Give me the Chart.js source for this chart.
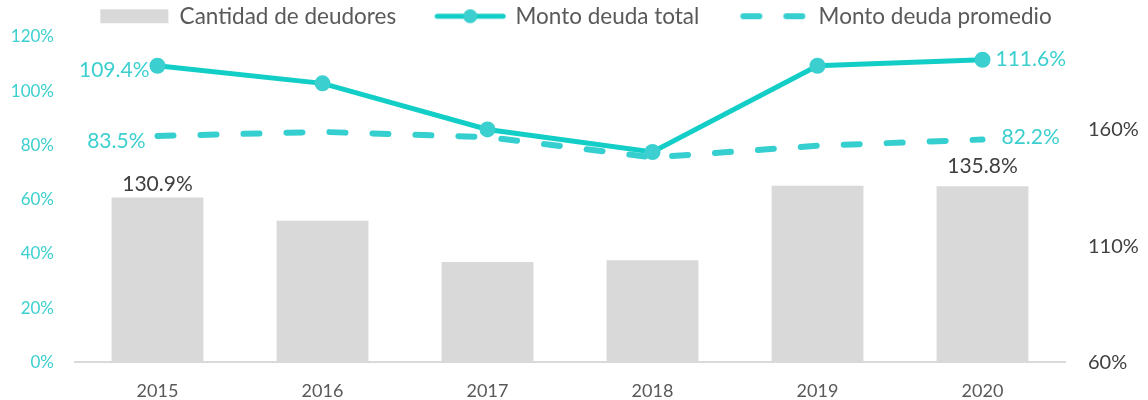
<!DOCTYPE html>
<html>
<head>
<meta charset="utf-8">
<script src="https://cdn.jsdelivr.net/npm/chart.js@4.4.0/dist/chart.umd.min.js"></script>
<style>
  html, body { margin: 0; padding: 0; background: #ffffff; }
  #wrap { width: 1148px; height: 400px; position: relative; }
</style>
</head>
<body>
<div id="wrap"><canvas id="c"></canvas></div>
<script>
// ---- data ----
const categories = ['2015', '2016', '2017', '2018', '2019', '2020'];
const cantidadDeudores = [130.9, 120.9, 103.2, 103.9, 136.0, 135.8];   // right axis
const montoDeudaTotal = [109.4, 102.9, 85.9, 77.6, 109.4, 111.6];      // left axis
const montoDeudaPromedio = [83.5, 85.0, 83.1, 75.6, 79.9, 82.2];       // left axis
const leftTicks = [0, 20, 40, 60, 80, 100, 120];
const rightTicks = [60, 110, 160];
const seriesNames = ['Cantidad de deudores', 'Monto deuda total', 'Monto deuda promedio'];

// ---- styles ----
const FONT = 'Lato';
const TEAL_LINE = '#12CEC6';
const TEAL_MARK = '#3BCFCF';
const TEAL_DASH = '#36CFCF';
const TEAL_TEXT = '#3CCFCF';
const BAR = '#D9D9D9';

function makeSwatch(kind) {
  const cv = document.createElement('canvas');
  cv.width = 72; cv.height = 20;
  const g = cv.getContext('2d');
  if (kind === 'bar') {
    g.fillStyle = BAR;
    g.fillRect(2, 3, 68, 14);
  } else if (kind === 'line') {
    g.strokeStyle = TEAL_LINE; g.lineWidth = 5; g.lineCap = 'round';
    g.beginPath(); g.moveTo(3, 10); g.lineTo(69, 10); g.stroke();
    g.fillStyle = TEAL_MARK;
    g.beginPath(); g.arc(36, 10, 7, 0, Math.PI * 2); g.fill();
  } else {
    g.strokeStyle = TEAL_DASH; g.lineWidth = 6; g.lineCap = 'round';
    g.setLineDash([16, 27]);
    g.beginPath(); g.moveTo(6, 10); g.lineTo(72, 10); g.stroke();
  }
  return cv;
}
const swatches = [makeSwatch('bar'), makeSwatch('line'), makeSwatch('dash')];

// label placement (style only)
const labelPlacement = {
  0: { 0: { align: 'center', dx: 0, dy: -13, color: '#404040' }, 5: { align: 'center', dx: 0, dy: -20, color: '#404040' } },
  1: { 0: { align: 'right', dx: -8, dy: 4, color: TEAL_TEXT }, 5: { align: 'left', dx: 13, dy: -1, color: TEAL_TEXT } },
  2: { 0: { align: 'right', dx: -12, dy: 5, color: TEAL_TEXT }, 5: { align: 'left', dx: 19, dy: -2, color: TEAL_TEXT } }
};

const dataLabelPlugin = {
  id: 'dataLabels',
  afterDatasetsDraw(chart) {
    const ctx = chart.ctx;
    ctx.save();
    ctx.font = '21px ' + FONT;
    ctx.textBaseline = 'middle';
    chart.data.datasets.forEach((ds, di) => {
      const meta = chart.getDatasetMeta(di);
      const place = labelPlacement[di] || {};
      Object.keys(place).forEach(k => {
        const i = +k;
        const el = meta.data[i];
        if (!el) return;
        const p = place[k];
        ctx.fillStyle = p.color;
        ctx.textAlign = p.align;
        ctx.fillText(ds.data[i].toFixed(1) + '%', el.x + p.dx, el.y + p.dy);
      });
    });
    ctx.restore();
  }
};

new Chart(document.getElementById('c'), {
  data: {
    labels: categories,
    datasets: [
      {
        type: 'bar', label: seriesNames[0], data: cantidadDeudores, yAxisID: 'y2',
        backgroundColor: BAR, borderWidth: 0,
        categoryPercentage: 1, barPercentage: 0.557
      },
      {
        type: 'line', label: seriesNames[1], data: montoDeudaTotal, yAxisID: 'y',
        borderColor: TEAL_LINE, borderWidth: 5, tension: 0,
        pointRadius: 8, pointBackgroundColor: TEAL_MARK, pointBorderWidth: 0,
        pointHoverRadius: 8
      },
      {
        type: 'line', label: seriesNames[2], data: montoDeudaPromedio, yAxisID: 'y',
        borderColor: TEAL_DASH, borderWidth: 6, borderDash: [16, 27], borderCapStyle: 'round',
        tension: 0, pointRadius: 0, pointHoverRadius: 0
      }
    ]
  },
  options: {
    responsive: true,
    maintainAspectRatio: false,
    animation: false,
    layout: { padding: { top: -35, left: 4, right: 0, bottom: -20 } },
    plugins: {
      tooltip: { enabled: false },
      legend: {
        position: 'top',
        maxHeight: 72,
        labels: {
          usePointStyle: true,
          pointStyleWidth: 68,
          padding: 40,
          color: '#595959',
          font: { family: FONT, size: 22.5 },
          generateLabels(chart) {
            return chart.data.datasets.map((ds, i) => ({
              text: ds.label,
              pointStyle: swatches[i],
              fontColor: '#595959',
              hidden: false,
              datasetIndex: i,
              lineWidth: 0,
              strokeStyle: 'rgba(0,0,0,0)',
              fillStyle: 'rgba(0,0,0,0)'
            }));
          }
        }
      }
    },
    scales: {
      x: {
        grid: { display: false, drawTicks: false },
        border: { display: true, color: BAR, width: 2 },
        ticks: { color: '#595959', font: { family: FONT, size: 18 }, padding: 18 }
      },
      y: {
        position: 'left', min: 0, max: 120,
        grid: { display: false, drawTicks: false },
        border: { display: false },
        afterBuildTicks(scale) { scale.ticks = leftTicks.map(v => ({ value: v })); },
        afterFit(scale) { scale.width = 71; },
        ticks: {
          color: TEAL_TEXT, font: { family: FONT, size: 17 }, padding: 21,
          callback: v => v + '%'
        }
      },
      y2: {
        position: 'right', min: 60, max: 200,
        grid: { display: false, drawTicks: false },
        border: { display: false },
        afterBuildTicks(scale) { scale.ticks = rightTicks.map(v => ({ value: v })); },
        afterFit(scale) { scale.width = 83; },
        ticks: {
          color: '#404040', font: { family: FONT, size: 20 }, padding: 23,
          callback: v => v + '%'
        }
      }
    }
  },
  plugins: [dataLabelPlugin]
});
</script>
</body>
</html>
